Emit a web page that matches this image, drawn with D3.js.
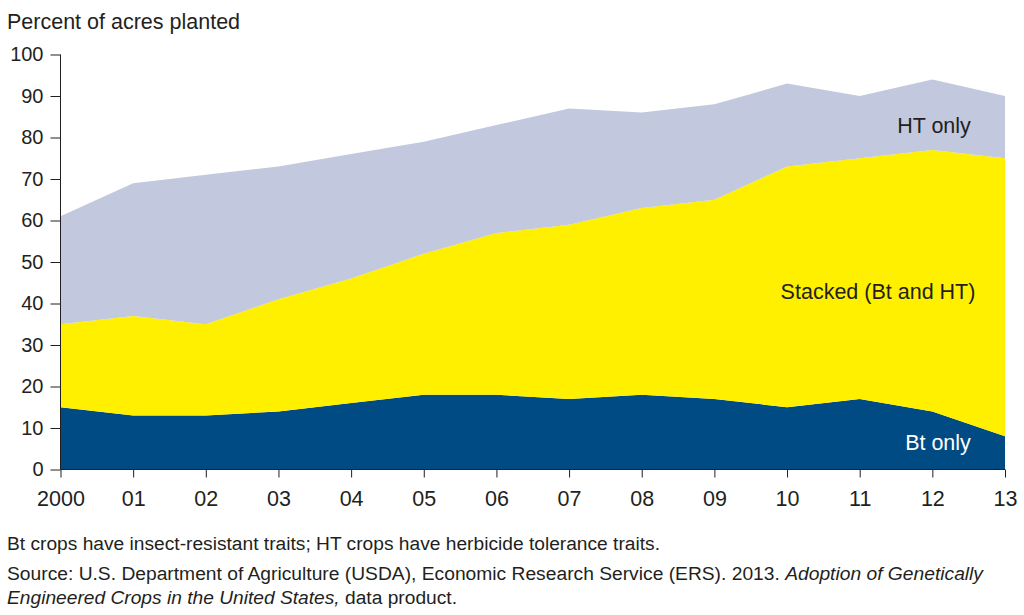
<!DOCTYPE html>
<html><head><meta charset="utf-8">
<script src="https://cdn.jsdelivr.net/npm/d3@7"></script>
<style>
body{margin:0;background:#fff;}
svg text{font-family:"Liberation Sans",Arial,sans-serif;fill:#231f20;}
</style></head>
<body><svg id="c" width="1024" height="615"></svg>
<script>
const years = [2000,2001,2002,2003,2004,2005,2006,2007,2008,2009,2010,2011,2012,2013];
const yearLabels = ["2000","01","02","03","04","05","06","07","08","09","10","11","12","13"];
const btOnly  = [15,13,13,14,16,18,18,17,18,17,15,17,14,8];
const stacked = [20,24,22,27,30,34,39,42,45,48,58,58,63,67];
const htOnly  = [26,32,36,32,30,27,26,28,23,23,20,15,17,15];
const yTicks = [0,10,20,30,40,50,60,70,80,90,100];
const seriesKeys = ["bt","stacked","ht"];
const seriesColors = {bt:"#004b83", stacked:"#fff000", ht:"#c2c8dd"};

const svg = d3.select("#c");
const x = d3.scaleLinear().domain([2000,2013]).range([60.5,1005]);
const y = d3.scaleLinear().domain([0,100]).range([469.5,54.5]);

const rows = years.map((yr,i)=>({year:yr, bt:btOnly[i], stacked:stacked[i], ht:htOnly[i]}));
const stack = d3.stack().keys(seriesKeys)(rows);
const area = d3.area().x(d=>x(d.data.year)).y0(d=>y(d[0])).y1(d=>y(d[1]));

svg.append("g").selectAll("path").data(stack).join("path")
  .attr("d",area).attr("fill",d=>seriesColors[d.key]);

// Y axis
const yAxis = svg.append("g").attr("transform","translate(60.5,0)")
  .call(d3.axisLeft(y).tickValues(yTicks).tickSize(10).tickPadding(7));
yAxis.select(".domain").attr("stroke","#231f20").attr("d","M0,"+y(100)+"V"+y(0));
yAxis.selectAll(".tick line").attr("stroke","#231f20");
yAxis.selectAll("text").style("font-size","20px").attr("fill","#231f20");

// X axis
const xAxis = svg.append("g").attr("transform","translate(0,469.5)")
  .call(d3.axisBottom(x).tickValues(years).tickFormat((d,i)=>yearLabels[i]).tickSize(8).tickPadding(13));
xAxis.select(".domain").attr("stroke","#231f20").attr("d","M"+x(2000)+",0H"+x(2013));
xAxis.selectAll(".tick line").attr("stroke","#231f20");
xAxis.selectAll("text").style("font-size","21.5px").attr("fill","#231f20");

// Title
svg.append("text").attr("x",7).attr("y",29).style("font-size","21.5px").text("Percent of acres planted");

// Series labels
svg.append("text").attr("x",934).attr("y",133).attr("text-anchor","middle").style("font-size","21.5px").text("HT only");
svg.append("text").attr("x",878).attr("y",299).attr("text-anchor","middle").style("font-size","21.5px").text("Stacked (Bt and HT)");
svg.append("text").attr("x",938).attr("y",450).attr("text-anchor","middle").style("font-size","21.5px").style("fill","#ffffff").text("Bt only");

// Notes
const n1 = svg.append("text").attr("x",7).attr("y",550).style("font-size","18px")
  .attr("textLength",653).attr("lengthAdjust","spacingAndGlyphs")
  .text("Bt crops have insect-resistant traits; HT crops have herbicide tolerance traits.");
const n2 = svg.append("text").attr("x",7).attr("y",580).style("font-size","18px")
  .attr("textLength",976).attr("lengthAdjust","spacingAndGlyphs");
n2.append("tspan").text("Source: U.S. Department of Agriculture (USDA), Economic Research Service (ERS). 2013. ");
n2.append("tspan").style("font-style","italic").text("Adoption of Genetically");
const n3 = svg.append("text").attr("x",7).attr("y",604).style("font-size","18px")
  .attr("textLength",450).attr("lengthAdjust","spacingAndGlyphs");
n3.append("tspan").style("font-style","italic").text("Engineered Crops in the United States,");
n3.append("tspan").text(" data product.");
</script></body></html>
